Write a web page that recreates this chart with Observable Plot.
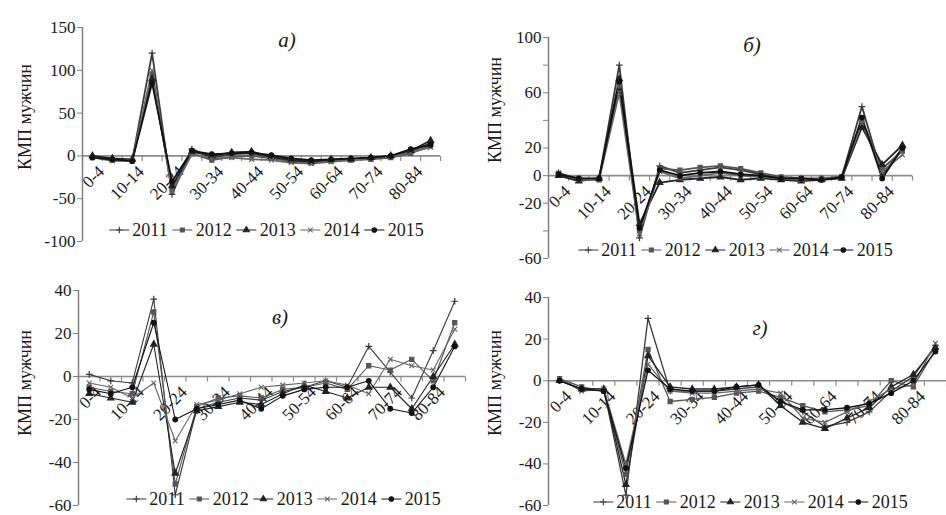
<!DOCTYPE html>
<html><head><meta charset="utf-8">
<script src="https://cdn.jsdelivr.net/npm/d3@7"></script>
<script src="https://cdn.jsdelivr.net/npm/@observablehq/plot@0.6"></script>
<style>
body{margin:0;background:#fff;}
#root{position:relative;width:946px;height:515px;overflow:hidden;font-family:"Liberation Serif","DejaVu Serif",serif;color:#1a1a1a;background:#fff;}
.panel{position:absolute;}
.ttl{position:absolute;font-style:italic;font-size:21px;transform:translate(-50%,-50%);}
.ylab{position:absolute;font-size:18px;transform:translate(-50%,-50%) rotate(-90deg);white-space:nowrap;}
.leg{position:absolute;display:flex;align-items:center;font-size:18px;line-height:18px;white-space:nowrap;transform:translate(-50%,-50%);}
.leg svg{display:block;}
</style></head><body><div id="root"></div>
<script>
const FONT = "'Liberation Serif', 'DejaVu Serif', serif";
const ages = ["0-4","5-9","10-14","15-19","20-24","25-29","30-34","35-39","40-44","45-49","50-54","55-59","60-64","65-69","70-74","75-79","80-84","85+"];
const ageTickLabels = ["0-4","10-14","20-24","30-34","40-44","50-54","60-64","70-74","80-84"];
const years = ["2011","2012","2013","2014","2015"];
const yAxisTitle = "КМП мужчин";
const panelTitles = ["а)","б)","в)","г)"];

// Panel а
const a2011 = [-1,-4,-5,120,-45,8,-2,2,3,-2,-4,-6,-5,-4,-3,-1,5,15];
const a2012 = [-2,-5,-6,95,-40,3,-5,-1,0,-3,-6,-8,-6,-5,-4,-2,3,12];
const a2013 = [0,-3,-4,90,-35,5,0,4,5,-1,-5,-7,-4,-4,-2,0,6,18];
const a2014 = [-1,-6,-5,100,-42,2,-3,-2,-4,-5,-8,-9,-7,-5,-3,-1,4,10];
const a2015 = [-2,-4,-6,85,-30,6,2,3,4,1,-3,-5,-4,-3,-2,0,8,13];
const aTicks = [-100,-50,0,50,100,150];
const aTickLabels = ["-100","-50","0","50","100","150"];
// Panel б
const b2011 = [2,-3,-2,80,-45,7,2,4,6,4,1,-2,-3,-3,-1,50,0,20];
const b2012 = [1,-2,-3,65,-40,5,4,6,7,5,2,-1,-2,-2,-1,40,5,18];
const b2013 = [0,-4,-2,70,-35,-5,-3,-2,-1,-3,-2,-3,-4,-3,-2,35,8,22];
const b2014 = [2,-3,-3,60,-42,3,-2,0,2,0,-1,-2,-3,-2,-1,38,3,15];
const b2015 = [1,-2,-2,68,-38,4,0,2,3,1,0,-2,-2,-3,-1,42,-2,20];
const bTicks = [-60,-40,-20,0,20,40,60,80,100];
const bTickLabels = ["-60","","-20","0","20","","60","","100"];
// Panel в
const c2011 = [1,-2,-3,36,-55,-15,-12,-10,-11,-7,-5,-2,-5,14,2,-10,12,35];
const c2012 = [-5,-7,-8,30,-50,-14,-10,-9,-10,-6,-5,-3,-6,5,3,8,-2,25];
const c2013 = [-8,-10,-12,15,-45,-16,-14,-12,-13,-8,-4,-7,-10,-5,-5,-15,0,15];
const c2014 = [-3,-5,-10,-3,-30,-13,-11,-8,-5,-4,-3,-2,-4,-8,8,5,3,22];
const c2015 = [-6,-8,-5,25,-20,-15,-13,-11,-15,-9,-6,-5,-5,-2,-15,-17,-5,14];
const cTicks = [-60,-40,-20,0,20,40];
const cTickLabels = ["-60","-40","-20","0","20","40"];
// Panel г
const d2011 = [0,-4,-4,-55,30,-5,-5,-5,-4,-3,-10,-15,-22,-20,-15,-5,2,17];
const d2012 = [1,-3,-5,-45,15,-10,-9,-8,-6,-5,-8,-12,-15,-14,-12,0,-3,15];
const d2013 = [0,-4,-4,-50,12,-3,-4,-4,-3,-2,-12,-20,-23,-18,-13,-3,3,16];
const d2014 = [1,-5,-4,-40,8,-5,-6,-6,-5,-4,-6,-18,-20,-15,-10,-4,-2,18];
const d2015 = [0,-4,-5,-42,5,-4,-5,-5,-3,-2,-10,-14,-14,-13,-11,-6,0,14];
const dTicks = [-60,-40,-20,0,20,40];
const dTickLabels = ["-60","-40","-20","0","20","40"];

const lineColors = ["#3a3a3a","#555555","#222222","#666666","#111111"];
const plotSymbols = ["plus","square","triangle","times","circle"];
const d3Symbols = [d3.symbolPlus, d3.symbolSquare, d3.symbolTriangle, d3.symbolTimes, d3.symbolCircle];

const panels = [
  {series:[a2011,a2012,a2013,a2014,a2015], domain:[-100,150], ticks:aTicks, labels:aTickLabels,
   left:0, top:0, w:470, h:257, ml:82, mr:30, mt:27, mb:16, sw:1.8,
   title:[287,40], ylab:[25,117], legend:[268,230]},
  {series:[b2011,b2012,b2013,b2014,b2015], domain:[-60,100], ticks:bTicks, labels:bTickLabels,
   left:470, top:0, w:476, h:270, ml:78, mr:34, mt:37, mb:12, sw:1.8,
   title:[752,45], ylab:[495,110], legend:[737,250]},
  {series:[c2011,c2012,c2013,c2014,c2015], domain:[-60,40], ticks:cTicks, labels:cTickLabels,
   left:0, top:257, w:470, h:258, ml:78, mr:5, mt:33, mb:10, sw:1.1,
   title:[280,317], ylab:[25,383], legend:[285,499]},
  {series:[d2011,d2012,d2013,d2014,d2015], domain:[-60,40], ticks:dTicks, labels:dTickLabels,
   left:470, top:257, w:476, h:258, ml:78, mr:0, mt:40, mb:10, sw:1.3,
   title:[760,328], ylab:[495,383], legend:[752,502]}
];

const tickSym = {draw(ctx){ ctx.moveTo(0,0); ctx.lineTo(0,5); }};
const boundaries = d3.range(ages.length + 1).map(k => k - 0.5);
const root = document.getElementById("root");

panels.forEach((p, pi) => {
  const rows = years.flatMap((yr, k) => p.series[k].map((v, i) => ({i, age: ages[i], year: yr, v})));
  const labelRows = ageTickLabels.map(t => ({i: ages.indexOf(t), t}));
  const chart = Plot.plot({
    width: p.w, height: p.h,
    marginLeft: p.ml, marginRight: p.mr, marginTop: p.mt, marginBottom: p.mb,
    style: {background: "transparent", overflow: "visible", fontFamily: FONT},
    x: {type: "linear", domain: [-0.5, ages.length - 0.5], axis: null},
    y: {domain: p.domain, axis: null},
    color: {domain: years, range: lineColors},
    symbol: {domain: years, range: plotSymbols},
    marks: [
      Plot.ruleY([0], {stroke: "#8c8c8c", strokeWidth: 1.6}),
      Plot.dot(boundaries, {x: d => d, y: () => 0, symbol: tickSym, stroke: "#8c8c8c", strokeWidth: 1.2}),
      Plot.ruleX([-0.5], {stroke: "#808080", strokeWidth: 1.5}),
      Plot.axisY(p.ticks, {anchor: "left", tickSize: 5, tickPadding: 2, fontSize: 17, fontFamily: FONT, stroke: "#808080",
        fill: "#1a1a1a", label: null, tickFormat: d => p.labels[p.ticks.indexOf(d)]}),
      Plot.text(labelRows, {x: "i", y: () => 0, text: "t", rotate: -45, textAnchor: "end",
        dx: 9, dy: 13, fontSize: 17, fontFamily: FONT, fill: "#1a1a1a"}),
      Plot.line(rows, {x: "i", y: "v", z: "year", stroke: "year", strokeWidth: p.sw}),
      Plot.dot(rows, {x: "i", y: "v", symbol: "year", stroke: "year", fill: "year", r: 2.3, strokeWidth: 1.2})
    ]
  });
  const wrap = document.createElement("div");
  wrap.className = "panel";
  wrap.style.left = p.left + "px"; wrap.style.top = p.top + "px";
  wrap.append(chart);
  root.append(wrap);
});

panels.forEach((p, pi) => {
  const t = document.createElement("div");
  t.className = "ttl"; t.textContent = panelTitles[pi];
  t.style.left = p.title[0] + "px"; t.style.top = p.title[1] + "px";
  root.append(t);
  const yl = document.createElement("div");
  yl.className = "ylab"; yl.textContent = yAxisTitle;
  yl.style.left = p.ylab[0] + "px"; yl.style.top = p.ylab[1] + "px";
  root.append(yl);
  const lg = document.createElement("div");
  lg.className = "leg";
  lg.style.left = p.legend[0] + "px"; lg.style.top = p.legend[1] + "px";
  years.forEach((yr, k) => {
    const svg = d3.create("svg").attr("width", 22).attr("height", 12);
    svg.append("line").attr("x1", 1).attr("x2", 21).attr("y1", 6).attr("y2", 6)
      .attr("stroke", lineColors[k]).attr("stroke-width", 1.2);
    svg.append("path").attr("transform", "translate(11,6)")
      .attr("d", d3.symbol(d3Symbols[k], 16)())
      .attr("fill", lineColors[k]).attr("stroke", lineColors[k]).attr("stroke-width", 1.1);
    lg.append(svg.node());
    const s = document.createElement("span");
    s.textContent = yr; s.style.margin = "0 4px 0 2px";
    lg.append(s);
  });
  root.append(lg);
});
</script></body></html>
